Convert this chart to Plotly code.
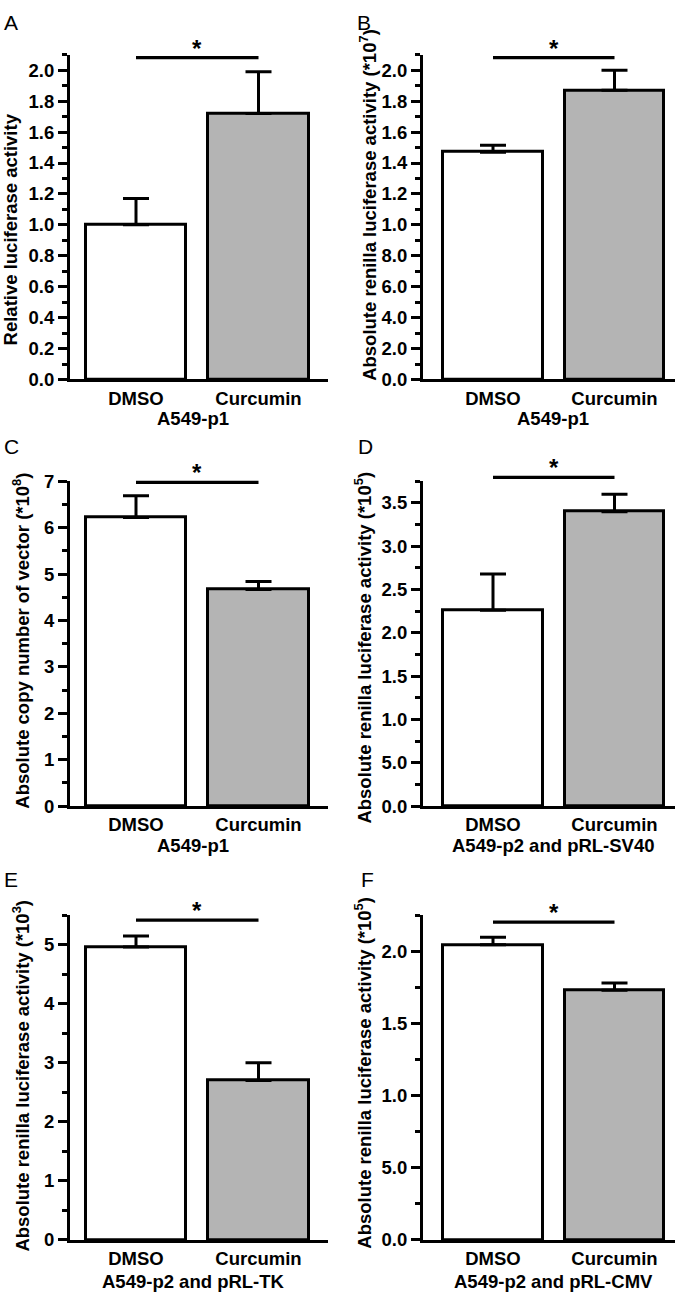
import plotly.graph_objects as go

W, H = 685, 1307

groups = ["DMSO", "Curcumin"]
letters = ["A", "B", "C", "D", "E", "F"]
subtitles = ["A549-p1", "A549-p1", "A549-p1",
             "A549-p2 and pRL-SV40", "A549-p2 and pRL-TK", "A549-p2 and pRL-CMV"]
ytitles = [
    "Relative luciferase activity",
    "Absolute renilla luciferase activity (*10<sup>7</sup>)",
    "Absolute copy number of vector (*10<sup>8</sup>)",
    "Absolute renilla luciferase activity (*10<sup>5</sup>)",
    "Absolute renilla luciferase activity (*10<sup>3</sup>)",
    "Absolute renilla luciferase activity (*10<sup>5</sup>)",
]

values_A = [1.00, 1.72]
errors_A = [0.17, 0.27]
values_B = [1.47, 1.87]
errors_B = [0.045, 0.13]
values_C = [6.22, 4.67]
errors_C = [0.47, 0.17]
values_D = [2.26, 3.40]
errors_D = [0.42, 0.20]
values_E = [4.96, 2.70]
errors_E = [0.19, 0.30]
values_F = [2.045, 1.73]
errors_F = [0.053, 0.05]

tickvals_A = [0.0, 0.2, 0.4, 0.6, 0.8, 1.0, 1.2, 1.4, 1.6, 1.8, 2.0]
ticktext_A = ["0.0", "0.2", "0.4", "0.6", "0.8", "1.0", "1.2", "1.4", "1.6", "1.8", "2.0"]
tickvals_B = [0.0, 0.2, 0.4, 0.6, 0.8, 1.0, 1.2, 1.4, 1.6, 1.8, 2.0]
ticktext_B = ["0.0", "2.0", "4.0", "6.0", "8.0", "1.0", "1.2", "1.4", "1.6", "1.8", "2.0"]
tickvals_C = [0, 1, 2, 3, 4, 5, 6, 7]
ticktext_C = ["0", "1", "2", "3", "4", "5", "6", "7"]
tickvals_D = [0.0, 0.5, 1.0, 1.5, 2.0, 2.5, 3.0, 3.5]
ticktext_D = ["0.0", "5.0", "1.0", "1.5", "2.0", "2.5", "3.0", "3.5"]
tickvals_E = [0, 1, 2, 3, 4, 5]
ticktext_E = ["0", "1", "2", "3", "4", "5"]
tickvals_F = [0.0, 0.5, 1.0, 1.5, 2.0]
ticktext_F = ["0.0", "5.0", "1.0", "1.5", "2.0"]

yranges = [[0, 2.1], [0, 2.1], [0, 7], [0, 3.75], [0, 5.5], [0, 2.25]]
minor_dticks = [0.1, 0.1, 0.5, 0.25, 0.5, 0.25]

panels = [
    (values_A, errors_A, tickvals_A, ticktext_A),
    (values_B, errors_B, tickvals_B, ticktext_B),
    (values_C, errors_C, tickvals_C, ticktext_C),
    (values_D, errors_D, tickvals_D, ticktext_D),
    (values_E, errors_E, tickvals_E, ticktext_E),
    (values_F, errors_F, tickvals_F, ticktext_F),
]

# ---- layout geometry (pixels) ----
col_geom = [  # y-axis x, right end, first bar centre, spacing
    (70, 328, 136, 122.5),
    (423, 675, 493, 121.5),
]
row_zero = [374.5, 808, 1249]
plot_h = 330
sig_frac = [0.991, 0.991, 0.997, 1.012, 0.985, 0.979]
ytitle_pos = [(10, 222), (368, 197), (21, 640), (363, 647), (21, 1082), (363, 1079)]
letter_pos = [(11, 12), (364, 12), (11, 443), (365, 443), (11, 883), (367, 883)]
sub_x = [193, 553]
sub_dy = [40, 40, 42]

FONT = "Liberation Sans, Arial, sans-serif"
bold = dict(family=FONT, size=18.5, color="black", weight="bold")

fig = go.Figure()
shapes = []
annotations = []

for i, (vals, errs, tv, tt) in enumerate(panels):
    n = i + 1
    r, c = divmod(i, 2)
    yax_x, xend, c0, sp = col_geom[c]
    z = row_zero[r]
    xa = "x" if n == 1 else f"x{n}"
    ya = "y" if n == 1 else f"y{n}"
    fig.add_trace(go.Bar(
        x=[0, 1], y=vals, width=0.82,
        marker=dict(color=["white", "#b4b4b4"], line=dict(color="black", width=3)),
        error_y=dict(type="data", symmetric=False, array=errs, arrayminus=[0, 0],
                     color="black", thickness=3, width=13),
        xaxis=xa, yaxis=ya, showlegend=False, hoverinfo="skip",
    ))
    xr = [(yax_x - c0) / sp, (xend - c0) / sp]
    xkey = "xaxis" if n == 1 else f"xaxis{n}"
    ykey = "yaxis" if n == 1 else f"yaxis{n}"
    fig.layout[xkey] = dict(
        domain=[yax_x / W, xend / W], range=xr, anchor=ya,
        showline=True, linecolor="black", linewidth=3,
        tickmode="array", tickvals=[0, 1], ticktext=groups,
        ticks="", tickfont=bold, showgrid=False, zeroline=False,
        fixedrange=True,
    )
    fig.layout[ykey] = dict(
        domain=[1 - z / H, 1 - (z - plot_h) / H], range=yranges[i], anchor=xa,
        showline=True, linecolor="black", linewidth=3,
        tickmode="array", tickvals=tv, ticktext=tt,
        ticks="outside", ticklen=9, tickwidth=2.5, tickcolor="black",
        tickfont=bold, showgrid=False, zeroline=False,
        minor=dict(dtick=minor_dticks[i], tick0=0, ticks="outside", ticklen=5,
                   tickwidth=2.5, tickcolor="black", showgrid=False),
        fixedrange=True,
    )
    # significance bracket
    shapes.append(dict(type="line", xref=xa, yref=f"{ya} domain",
                       x0=0, x1=1, y0=sig_frac[i], y1=sig_frac[i],
                       line=dict(color="black", width=3.3)))
    annotations.append(dict(text="*", xref=xa, yref=f"{ya} domain", x=0.5,
                            y=sig_frac[i], yanchor="bottom", showarrow=False,
                            yshift=-6, font=dict(family=FONT, size=24, color="black", weight="bold")))
    # y title
    tx, ty = ytitle_pos[i]
    annotations.append(dict(text=ytitles[i], xref="paper", yref="paper",
                            x=tx / W, y=1 - ty / H, textangle=-90, showarrow=False,
                            xanchor="center", yanchor="middle", font=bold))
    # x subtitle
    annotations.append(dict(text=subtitles[i], xref="paper", yref="paper",
                            x=sub_x[c] / W, y=1 - (z + sub_dy[r]) / H, showarrow=False,
                            xanchor="center", yanchor="middle", font=bold))
    lx, ly = letter_pos[i]
    annotations.append(dict(text=letters[i], xref="paper", yref="paper",
                            x=lx / W, y=1 - ly / H, showarrow=False,
                            xanchor="center", yanchor="middle",
                            font=dict(family=FONT, size=21, color="black")))

fig.update_layout(
    width=W, height=H, margin=dict(l=0, r=0, t=0, b=0),
    paper_bgcolor="white", plot_bgcolor="white",
    shapes=shapes, annotations=annotations, showlegend=False,
    bargap=0,
)

fig.write_html("out.html", config={"responsive": False, "displayModeBar": False},
               post_script="document.body.style.margin='0';document.body.style.overflow='hidden';")
